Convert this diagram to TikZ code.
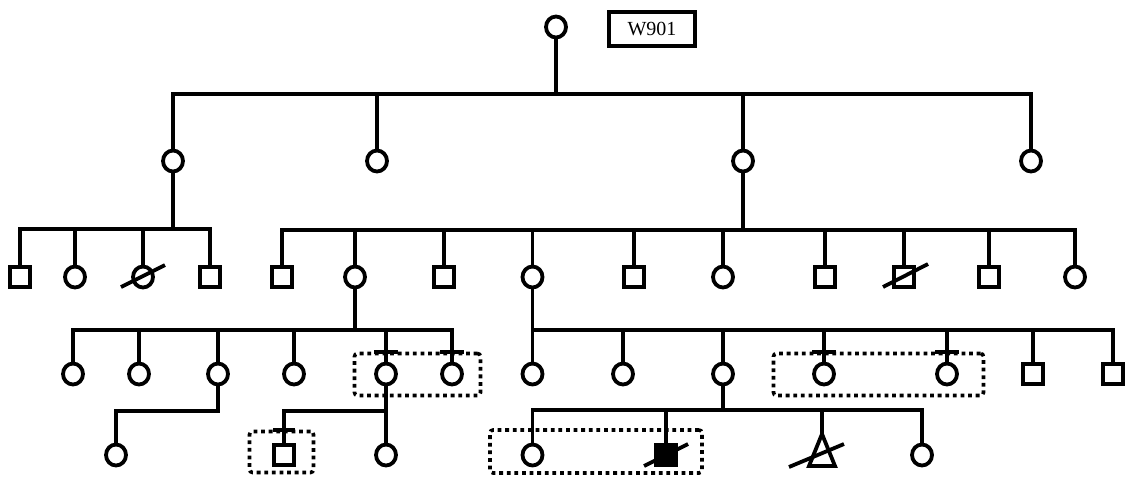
\documentclass[tikz,border=0pt]{standalone}
\usepackage{fontspec}
\setmainfont{Liberation Serif}
\usetikzlibrary{shapes.geometric,calc}
\begin{document}
\begin{tikzpicture}[x=1pt,y=-1pt,line width=3.8pt,line join=miter,
  fem/.style={draw,ellipse,minimum width=20pt,minimum height=21pt,inner sep=0pt,outer sep=0pt},
  mal/.style={draw,rectangle,minimum size=20pt,inner sep=0pt,outer sep=0pt},
  dotbox/.style={draw,line width=3.6pt,dash pattern=on 3.8pt off 3.8pt,rounded corners=3pt,inner sep=0pt},
  slash/.style={line width=3.8pt},
  tickmark/.style={line width=3.8pt}]
\useasboundingbox (0,0) rectangle (1127,480);
% generation 1
\node[fem] (p0) at (556,27) {};
\node[draw,line width=3.8pt,minimum width=86pt,minimum height=34pt,inner sep=0pt,font=\fontsize{20}{24}\selectfont] (lab) at (652,29) {W901};
\coordinate (b1) at (0,94);
% generation 2
\node[fem] (a1) at (173,161) {};
\node[fem] (a2) at (377,161) {};
\node[fem] (a3) at (743,161) {};
\node[fem] (a4) at (1031,161) {};
\draw (p0) -- (p0 |- b1);
\draw (a1) -- (a1 |- b1) -- (a4 |- b1) -- (a4);
\draw (a2) -- (a2 |- b1);
\draw (a3) -- (a3 |- b1);
% generation 3 left
\coordinate (b2) at (0,229);
\node[mal] (m1) at (20,277) {};
\node[fem] (f1) at (75,277) {};
\node[fem] (f2) at (143,277) {};
\node[mal] (m2) at (210,277) {};
\draw (a1) -- (a1 |- b2);
\draw (m1) -- (m1 |- b2) -- (m2 |- b2) -- (m2);
\draw (f1) -- (f1 |- b2);
\draw (f2) -- (f2 |- b2);
\draw[slash] (f2) ++(-22,10) -- ++(44,-22);
% generation 3 right
\coordinate (b3) at (0,230);
\node[mal] (m3) at (282,277) {};
\node[fem] (g1) at (355,277) {};
\node[mal] (m4) at (444,277) {};
\node[fem] (g2) at (532.5,277) {};
\node[mal] (m5) at (634,277) {};
\node[fem] (f3) at (723,277) {};
\node[mal] (m6) at (825,277) {};
\node[mal] (m7) at (904,277) {};
\node[mal] (m8) at (989,277) {};
\node[fem] (f4) at (1075,277) {};
\draw (a3) -- (a3 |- b3);
\draw (m3) -- (m3 |- b3) -- (f4 |- b3) -- (f4);
\foreach \n in {g1,m4,g2,m5,f3,m6,m7,m8} \draw (\n) -- (\n |- b3);
\draw[slash] (m7) ++(-21,10) -- ++(45,-23);
% generation 4 left
\coordinate (b4) at (0,330);
\node[fem] (h1) at (73,374) {};
\node[fem] (h2) at (139,374) {};
\node[fem] (h3) at (218,374) {};
\node[fem] (h4) at (294,374) {};
\node[fem] (h5) at (386,374) {};
\node[fem] (h6) at (452,374) {};
\draw (g1) -- (g1 |- b4);
\draw (h1) -- (h1 |- b4) -- (h6 |- b4) -- (h6);
\foreach \n in {h2,h3,h4,h5} \draw (\n) -- (\n |- b4);
\node[dotbox,minimum width=126pt,minimum height=42pt] (bx1) at (417.5,374.5) {};
\draw[tickmark] (h5 |- bx1.north) ++(-12,0) -- ++(24,0);
\draw[tickmark] (h6 |- bx1.north) ++(-12,0) -- ++(24,0);
% generation 5 left
\coordinate (b5) at (0,411);
\node[fem] (k1) at (116,455) {};
\node[mal] (k2) at (284,455) {};
\node[fem] (k3) at (386,455) {};
\draw (h3) -- (h3 |- b5) -- (k1 |- b5) -- (k1);
\draw (h5) -- (h5 |- b5);
\draw (k2) -- (k2 |- b5) -- (k3 |- b5) -- (k3);
\node[dotbox,minimum width=64pt,minimum height=41pt] (bx2) at (281.5,452) {};
\draw[tickmark] (k2 |- bx2.north) ++(-11,0) -- ++(22,0);
% generation 4 right
\coordinate (b6) at (0,330);
\node[fem] (r1) at (532.5,374) {};
\node[fem] (r2) at (623,374) {};
\node[fem] (r3) at (723,374) {};
\node[fem] (r4) at (824,374) {};
\node[fem] (r5) at (947,374) {};
\node[mal] (r6) at (1033,374) {};
\node[mal] (r7) at (1113,374) {};
\draw (g2) -- (g2 |- b6);
\draw (r1) -- (r1 |- b6) -- (r7 |- b6) -- (r7);
\foreach \n in {r2,r3,r4,r5,r6} \draw (\n) -- (\n |- b6);
\node[dotbox,minimum width=210pt,minimum height=42pt] (bx3) at (878.5,374.5) {};
\draw[tickmark] (r4 |- bx3.north) ++(-12,0) -- ++(24,0);
\draw[tickmark] (r5 |- bx3.north) ++(-12,0) -- ++(24,0);
% generation 5 right
\coordinate (b7) at (0,410);
\node[fem] (s1) at (532.5,455) {};
\node[mal,fill=black] (s2) at (666,455) {};
\coordinate (t1) at (822,434);
\node[fem] (s4) at (922,455) {};
\draw (s1) -- (s1 |- b7) -- (s4 |- b7) -- (s4);
\draw (s2) -- (s2 |- b7);
\draw (r3) -- (r3 |- b7);
\draw (t1) -- (t1 |- b7);
\draw (t1) -- (835,466) -- (809,466) -- cycle;
\draw[slash] (s2) ++(-22,11) -- ++(44,-22);
\draw[slash] (t1) ++(-33,33) -- ++(55,-23);
\node[dotbox,minimum width=212pt,minimum height=43pt] (bx4) at (596,451.5) {};
\end{tikzpicture}
\end{document}
